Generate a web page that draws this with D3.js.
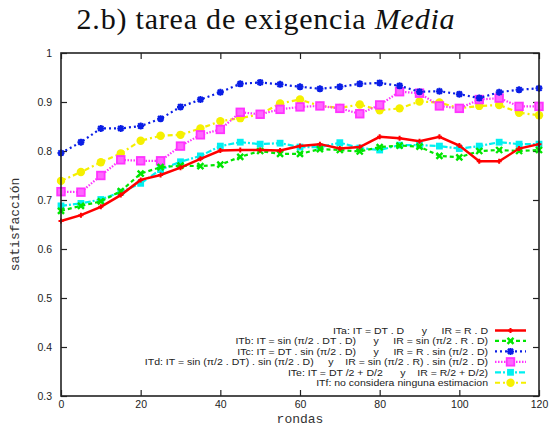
<!DOCTYPE html>
<html>
<head>
<meta charset="utf-8">
<script src="https://cdn.jsdelivr.net/npm/d3@7"></script>
<style>
  html, body { margin: 0; padding: 0; background: #fff; }
  svg { display: block; }
</style>
</head>
<body>
<svg id="chart" width="555" height="434"></svg>
<script>
// Rounds sampled every 5 steps
const rondas = [0,5,10,15,20,25,30,35,40,45,50,55,60,65,70,75,80,85,90,95,100,105,110,115,120];

const itaValues = [0.657,0.669,0.686,0.710,0.741,0.751,0.766,0.784,0.801,0.802,0.802,0.801,0.810,0.814,0.805,0.808,0.829,0.826,0.820,0.829,0.811,0.779,0.779,0.805,0.814];
const itbValues = [0.678,0.688,0.697,0.718,0.754,0.767,0.770,0.769,0.772,0.788,0.800,0.794,0.794,0.804,0.802,0.799,0.808,0.811,0.809,0.790,0.787,0.800,0.802,0.800,0.802];
const itcValues = [0.796,0.818,0.846,0.846,0.851,0.866,0.890,0.905,0.920,0.937,0.940,0.936,0.931,0.927,0.931,0.937,0.939,0.933,0.921,0.922,0.916,0.908,0.920,0.925,0.928];
const itdValues = [0.717,0.716,0.750,0.782,0.780,0.780,0.810,0.833,0.844,0.879,0.875,0.885,0.890,0.892,0.887,0.876,0.894,0.921,0.918,0.892,0.887,0.905,0.908,0.891,0.891];
const iteValues = [0.688,0.693,0.701,0.716,0.734,0.762,0.778,0.790,0.810,0.818,0.814,0.816,0.808,0.808,0.817,0.806,0.802,0.812,0.812,0.810,0.805,0.810,0.818,0.814,0.814];
const itfValues = [0.739,0.757,0.777,0.795,0.821,0.831,0.833,0.846,0.861,0.867,0.875,0.897,0.905,0.892,0.888,0.895,0.883,0.887,0.901,0.899,0.887,0.892,0.894,0.878,0.873];

const xTicks = [0,20,40,60,80,100,120];
const yTicks = [0.3,0.4,0.5,0.6,0.7,0.8,0.9,1];

const seriesLabels = [
  "ITa: IT = DT . D      y     IR = R . D",
  "ITb: IT = sin (\u03c0/2 . DT . D)      y     IR = sin (\u03c0/2 . R . D)",
  "ITc: IT = DT . sin (\u03c0/2 . D)      y     IR = R . sin (\u03c0/2 . D)",
  "ITd: IT = sin (\u03c0/2 . DT) . sin (\u03c0/2 . D)     y    IR = sin (\u03c0/2 . R) . sin (\u03c0/2 . D)",
  "ITe: IT = DT /2 + D/2      y    IR = R/2 + D/2)",
  "ITf: no considera ninguna estimacion"
];
const seriesColors = ["#ff0000", "#00e600", "#0a1ee6", "#ff33ff", "#00f0f0", "#f5f000"];
const seriesDash = [null, "4,3", "2,3", "1.5,1.5", "6,2,2,2", "5,3,2,3"];
const seriesMarker = ["plus", "cross", "star", "opensquare", "square", "circle"];
const seriesValues = [itaValues, itbValues, itcValues, itdValues, iteValues, itfValues];

const series = seriesLabels.map((label, i) => ({
  label, color: seriesColors[i], dash: seriesDash[i], marker: seriesMarker[i],
  points: rondas.map((r, j) => ({ r, v: seriesValues[i][j] }))
}));

const svg = d3.select("#chart");
const margin = { left: 61, right: 16, top: 53, bottom: 38 };
const W = 555, H = 434;
const x = d3.scaleLinear().domain([0, 120]).range([margin.left, W - margin.right]);
const y = d3.scaleLinear().domain([0.3, 1]).range([H - margin.bottom, margin.top]);

// Title
const title = svg.append("text")
  .attr("x", 266).attr("y", 29)
  .attr("text-anchor", "middle")
  .style("font-family", "'Liberation Serif', 'DejaVu Serif', serif")
  .style("font-size", "30px")
  .style("letter-spacing", "0.8px")
  .attr("fill", "#111");
title.append("tspan").text("2.b) tarea de exigencia ");
title.append("tspan").style("font-style", "italic").text("Media");

const tickFont = "'Liberation Sans', Arial, sans-serif";

// Axes with inward ticks
const axisBottom = d3.axisBottom(x).tickValues(xTicks).tickSizeInner(-6).tickSizeOuter(0).tickPadding(5).tickFormat(d3.format("d"));
const axisLeft = d3.axisLeft(y).tickValues(yTicks).tickSizeInner(-6).tickSizeOuter(0).tickPadding(9).tickFormat(d => d3.format("")(+d.toFixed(1)));
const axisTop = d3.axisTop(x).tickValues(xTicks).tickSizeInner(-6).tickSizeOuter(0).tickFormat("");
const axisRight = d3.axisRight(y).tickValues(yTicks).tickSizeInner(-6).tickSizeOuter(0).tickFormat("");

function styleAxis(g) {
  g.select(".domain").remove();
  g.selectAll(".tick line").attr("stroke", "#222").attr("stroke-width", 1.2);
  g.selectAll(".tick text").attr("fill", "#222").style("font-family", tickFont).style("font-size", "10.5px");
}
svg.append("g").attr("transform", `translate(0,${y(0.3)})`).call(axisBottom).call(styleAxis);
svg.append("g").attr("transform", `translate(${x(0)},0)`).call(axisLeft).call(styleAxis);
svg.append("g").attr("transform", `translate(0,${y(1)})`).call(axisTop).call(styleAxis);
svg.append("g").attr("transform", `translate(${x(120)},0)`).call(axisRight).call(styleAxis);

// Axis titles
svg.append("text")
  .attr("x", x(60)).attr("y", 423)
  .attr("text-anchor", "middle")
  .style("font-family", "'Liberation Mono', 'DejaVu Sans Mono', monospace")
  .style("font-size", "13px").attr("fill", "#333")
  .text("rondas");
svg.append("text")
  .attr("transform", `translate(19,${y(0.65)}) rotate(-90)`)
  .attr("text-anchor", "middle")
  .style("font-family", "'Liberation Mono', 'DejaVu Sans Mono', monospace")
  .style("font-size", "13px").attr("fill", "#333")
  .text("satisfacción");

// Marker drawing
function drawMarker(g, type, color, cx, cy) {
  switch (type) {
    case "plus":
      g.append("path").attr("d", `M${cx-2.5},${cy}H${cx+2.5}M${cx},${cy-2.5}V${cy+2.5}`)
        .attr("stroke", color).attr("stroke-width", 2);
      break;
    case "cross":
      g.append("path").attr("d", `M${cx-3},${cy-3}L${cx+3},${cy+3}M${cx-3},${cy+3}L${cx+3},${cy-3}`)
        .attr("stroke", color).attr("stroke-width", 2.4);
      break;
    case "star":
      g.append("path").attr("d", `M${cx-3.5},${cy}H${cx+3.5}M${cx},${cy-3.5}V${cy+3.5}M${cx-2.6},${cy-2.6}L${cx+2.6},${cy+2.6}M${cx-2.6},${cy+2.6}L${cx+2.6},${cy-2.6}`)
        .attr("stroke", color).attr("stroke-width", 2);
      g.append("rect").attr("x", cx-2.2).attr("y", cy-2.2).attr("width", 4.4).attr("height", 4.4).attr("fill", color);
      break;
    case "opensquare":
      g.append("rect").attr("x", cx-3.8).attr("y", cy-3.8).attr("width", 7.6).attr("height", 7.6)
        .attr("fill", "#ff66ff").attr("stroke", color).attr("stroke-width", 1.8);
      break;
    case "square":
      g.append("rect").attr("x", cx-3.4).attr("y", cy-3.4).attr("width", 6.8).attr("height", 6.8).attr("fill", color);
      break;
    case "circle":
      g.append("circle").attr("cx", cx).attr("cy", cy).attr("r", 4.2).attr("fill", color);
      break;
  }
}

const line = d3.line().x(d => x(d.r)).y(d => y(d.v));
const plot = svg.append("g");

// Draw series in reverse so ITa ends up on top
series.slice().reverse().forEach(s => {
  const g = plot.append("g");
  g.append("path").datum(s.points)
    .attr("d", line)
    .attr("fill", "none")
    .attr("stroke", s.color)
    .attr("stroke-width", s.marker === "plus" ? 2.5 : 2.2)
    .attr("stroke-dasharray", s.dash);
  s.points.forEach(p => drawMarker(g, s.marker, s.color, x(p.r), y(p.v)));
});

// Legend: rows are tightly packed, so the text is set slightly smaller and widened
const legend = svg.append("g");
const legTextX = 488, legLineX0 = 495, legLineX1 = 526, legY0 = 330.5, legDy = 10.45;
series.forEach((s, i) => {
  const yy = legY0 + i * legDy;
  legend.append("g")
    .attr("transform", `translate(${legTextX},${yy + 3.4}) scale(1.12,1)`)
    .append("text")
    .attr("x", 0).attr("y", 0)
    .attr("text-anchor", "end")
    .attr("xml:space", "preserve")
    .style("white-space", "pre")
    .style("font-family", tickFont).style("font-size", "9.4px").attr("fill", "#222")
    .text(s.label);
  legend.append("line")
    .attr("x1", legLineX0).attr("x2", legLineX1).attr("y1", yy).attr("y2", yy)
    .attr("stroke", s.color).attr("stroke-width", s.marker === "plus" ? 2.5 : 2.2)
    .attr("stroke-dasharray", s.dash);
  drawMarker(legend, s.marker, s.color, (legLineX0 + legLineX1) / 2, yy);
});

// Frame
svg.append("rect")
  .attr("x", x(0)).attr("y", y(1))
  .attr("width", x(120) - x(0)).attr("height", y(0.3) - y(1))
  .attr("fill", "none").attr("stroke", "#222").attr("stroke-width", 1.6);
</script>
</body>
</html>
